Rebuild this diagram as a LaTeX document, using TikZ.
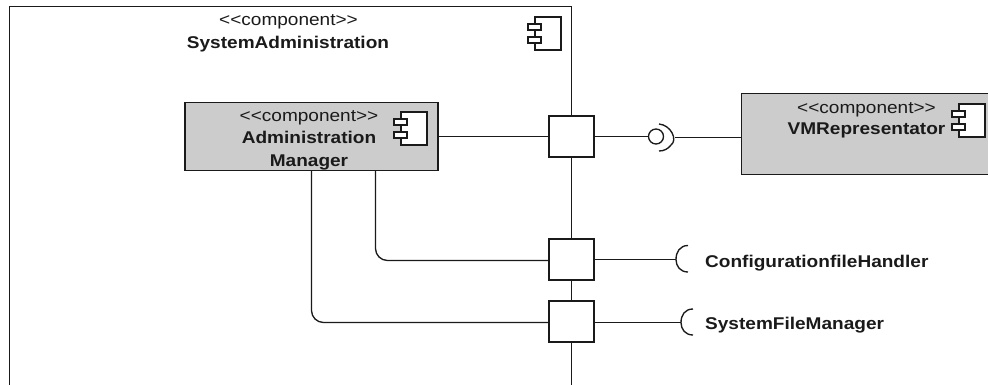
\documentclass[tikz,border=0pt]{standalone}
\usepackage{fontspec}
\setmainfont[FakeStretch=1.12,Ligatures=NoCommon]{Liberation Sans}
\definecolor{boxgray}{HTML}{CCCCCC}
\definecolor{ink}{HTML}{1A1A1A}
\newcommand{\stereo}{{<}{<}component{>}{>}}
\tikzset{
  line/.style={draw=ink,line width=1.35pt},
  comp/.style={line,fill=boxgray,rectangle,inner sep=0pt},
  port/.style={line,fill=white,rectangle,inner sep=0pt,minimum width=45pt,minimum height=41pt},
  ste/.style={inner sep=0pt,font=\fontsize{17}{19}\selectfont,text=ink},
  nam/.style={inner sep=0pt,font=\fontsize{17}{19}\selectfont\bfseries,text=ink},
  lolly/.style={line,fill=white,circle,inner sep=0pt,minimum size=15pt},
}
\newcommand{\compicon}[2]{%
  \begin{scope}[shift={(#1,#2)}]
    \draw[line,fill=white] (7,0) rectangle (33,33);
    \draw[line,fill=white] (0,7) rectangle (13,13);
    \draw[line,fill=white] (0,20) rectangle (13,26);
  \end{scope}}
\begin{document}
\begin{tikzpicture}[x=1pt,y=-1pt]
\clip (0,0) rectangle (988,385);
\fill[white] (0,0) rectangle (988,385);
% outer component, open at the bottom
\coordinate (outerBL) at (9.5,386);
\coordinate (outerTL) at (9.5,6.5);
\coordinate (outerTR) at (571.5,6.5);
\coordinate (outerBR) at (571.5,386);
\draw[line] (outerBL) -- (outerTL) -- (outerTR);
\node[ste] (sysS) at (288.5,22) {\stereo};
\node[nam] (sysN) at (288,44) {SystemAdministration};
\compicon{528}{17}
% ports
\node[port] (p1) at (571.5,136.5) {};
\node[port] (p2) at (571.5,259.5) {};
\node[port] (p3) at (571.5,321.5) {};
\draw[line] (outerTR) -- (p1.north);
\draw[line] (p1.south) -- (p2.north);
\draw[line] (p2.south) -- (p3.north);
\draw[line] (p3.south) -- (outerBR);
% administration manager
\node[comp,minimum width=253pt,minimum height=68pt] (adm) at (311.5,136.5) {};
\node[ste] (admS) at (309,118) {\stereo};
\node[nam] (admN) at (309,137.5) {Administration};
\node[nam] (admM) at (309,162) {Manager};
\compicon{394}{112}
\draw[line] (adm.east) -- (p1.west);
\draw[line,rounded corners=12pt] (adm.south -| 375.5,0) -- (375.5,260.5) -- (p2.west |- 0,260.5);
\draw[line,rounded corners=12pt] (adm.south -| 311.5,0) -- (311.5,322.5) -- (p3.west |- 0,322.5);
% VMRepresentator
\node[comp,minimum width=270pt,minimum height=81pt] (vm) at (876.5,134) {};
\node[ste] (vmS) at (866.5,110) {\stereo};
\node[nam] (vmN) at (866.5,130.5) {VMRepresentator};
\compicon{952}{104}
% provided / required interface
\node[lolly] (ball) at (656,136.5) {};
\coordinate (sockVM) at (675,137.5);
\draw[line] (p1.east) -- (ball.west);
\draw[line] (659,124) .. controls (671,125) and (678,140) .. (671,145) .. controls (668,149) and (664,151) .. (659,151);
\draw[line] (sockVM) -- (vm.west |- sockVM);
% required interfaces
\coordinate (s2) at (676,259.5);
\coordinate (s3) at (681,322.5);
\draw[line] (p2.east |- s2) -- (s2);
\draw[line] (p3.east |- s3) -- (s3);
\draw[line] (688,245.5) .. controls (680,245.5) and (676,252) .. (s2) .. controls (676,266) and (680,272) .. (688,272);
\draw[line] (693,309) .. controls (685,309) and (681,315) .. (s3) .. controls (681,329) and (685,335) .. (693,335);
\node[nam,anchor=west] (cfh) at (705,263) {ConfigurationfileHandler};
\node[nam,anchor=west] (sfm) at (705,325) {SystemFileManager};
\end{tikzpicture}
\end{document}
